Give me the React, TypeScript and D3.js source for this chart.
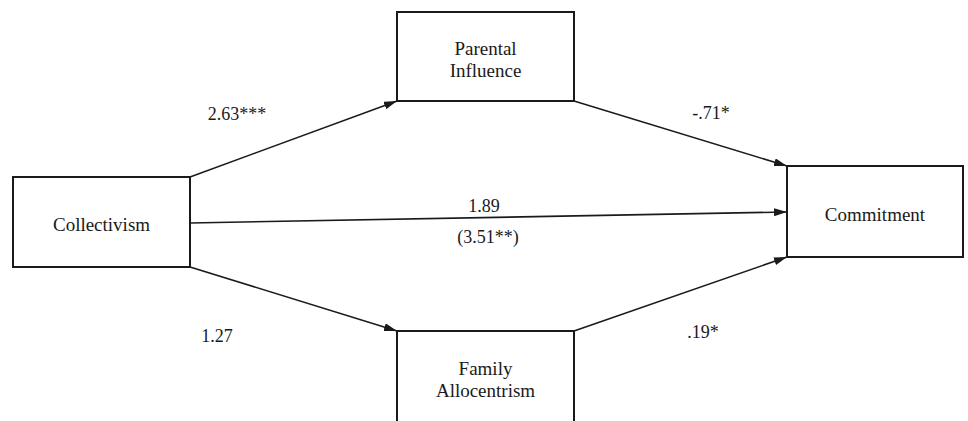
import * as d3 from 'd3'

const WIDTH = 968
const HEIGHT = 421

// variables in the mediation model
const NODES = ['Collectivism', 'Parental Influence', 'Family Allocentrism', 'Commitment']
const NODE_LINES: Record<string, string[]> = {
  'Collectivism': ['Collectivism'],
  'Parental Influence': ['Parental', 'Influence'],
  'Family Allocentrism': ['Family', 'Allocentrism'],
  'Commitment': ['Commitment'],
}

// paths: from, to, coefficient label
const PATH_FROM = ['Collectivism', 'Parental Influence', 'Collectivism', 'Collectivism', 'Family Allocentrism']
const PATH_TO = ['Parental Influence', 'Commitment', 'Commitment', 'Family Allocentrism', 'Commitment']
const PATH_COEF = ['2.63***', '-.71*', '1.89', '1.27', '.19*']
const TOTAL_EFFECT = '(3.51**)'

const FONT = "'Liberation Serif', 'Noto Serif', serif"
const INK = '#1a1a1a'

// box layout
const BOX: Record<string, { x0: number; x1: number; y0: number; y1: number; base: number }> = {
  'Collectivism': { x0: 13, x1: 190, y0: 177, y1: 267, base: 231 },
  'Parental Influence': { x0: 397, x1: 574, y0: 12, y1: 101, base: 55 },
  'Family Allocentrism': { x0: 397, x1: 574, y0: 331, y1: 440, base: 375 },
  'Commitment': { x0: 787, x1: 963, y0: 166, y1: 257, base: 221 },
}
// attachment points per path
const ANCHORS: [number, number][][] = [
  [[190, 177], [397, 101]],
  [[574, 101], [787, 166]],
  [[190, 223], [787, 212]],
  [[190, 267], [397, 331]],
  [[574, 331], [787, 257]],
]
const LABEL_POS: [number, number][] = [
  [237, 120], [711, 119], [484, 212], [217, 342], [703, 338],
]

// text drawn at 20px and scaled down, so the font is matched at 20px
function Label({ x, y, size, children }: { x: number; y: number; size: number; children: string }) {
  return (
    <text transform={`translate(${x},${y}) scale(${size / 20})`} textAnchor="middle"
      style={{ fontFamily: FONT, fontSize: 20 }} fill={INK}>{children}</text>
  )
}

export default function App() {
  const line = d3.line()
  return (
    <svg width={WIDTH} height={HEIGHT}
      style={{ position: 'absolute', left: 0, top: 0, background: '#fff' }}>
      <defs>
        <marker id="arr" viewBox="0 0 13 8" refX={13} refY={4}
          markerWidth={13} markerHeight={8} markerUnits="userSpaceOnUse" orient="auto">
          <path d="M0,0 L13,4 L0,8 Z" fill={INK} />
        </marker>
      </defs>
      {NODES.map(n => {
        const b = BOX[n]
        const cx = (b.x0 + b.x1) / 2
        return (
          <g key={n}>
            <rect x={b.x0} y={b.y0} width={b.x1 - b.x0} height={b.y1 - b.y0}
              fill="#fff" stroke={INK} strokeWidth={2} />
            {NODE_LINES[n].map((l, i) => (
              <Label key={l} x={cx} y={b.base + i * 22} size={19}>{l}</Label>
            ))}
          </g>
        )
      })}
      {PATH_FROM.map((f, i) => (
        <g key={f + PATH_TO[i]}>
          <path d={line(ANCHORS[i]) ?? ''} stroke={INK} strokeWidth={1.6} fill="none"
            markerEnd="url(#arr)" />
          <Label x={LABEL_POS[i][0]} y={LABEL_POS[i][1]} size={18}>{PATH_COEF[i]}</Label>
        </g>
      ))}
      <Label x={488} y={243} size={18}>{TOTAL_EFFECT}</Label>
    </svg>
  )
}
